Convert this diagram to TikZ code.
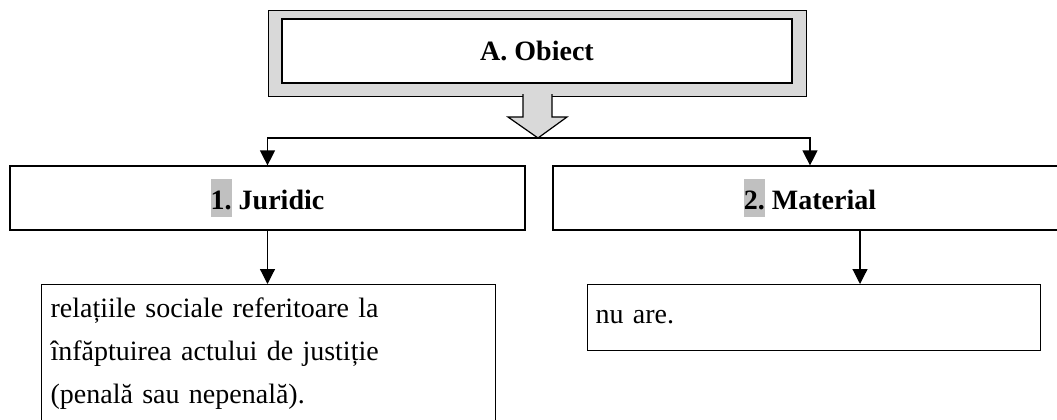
\documentclass[tikz,border=0pt]{standalone}
\usepackage{fontspec}
\setmainfont{Liberation Serif}
\usetikzlibrary{arrows.meta}

\definecolor{framegray}{RGB}{217,217,217}
\definecolor{markgray}{RGB}{192,192,192}
\newcommand{\marknum}[1]{{\setlength{\fboxsep}{0pt}\colorbox{markgray}{\rule[-8pt]{0pt}{38pt}#1}}}

\begin{document}
\begin{tikzpicture}[x=1pt,y=-1pt,line width=1.2pt,>={Triangle[length=15pt,width=15pt]}]

      \useasboundingbox (0,0) rectangle (1057,420);
      \clip (0,0) rectangle (1057,420);

      \begin{scope}[every node/.style={draw,fill=white,font=\fontsize{28}{43}\selectfont\bfseries}]
        \node[minimum width=510pt,minimum height=64pt] (obiect)   at (537,51)    {A. Obiect};
        \node[minimum width=515pt,minimum height=64pt] (juridic)  at (267.5,198) {\marknum{1.} Juridic};
        \node[minimum width=514pt,minimum height=64pt] (material) at (810,198)   {\marknum{2.} Material};
      \end{scope}

      \begin{scope}[every node/.style={draw,font=\fontsize{28}{43}\selectfont,align=left,anchor=north west,inner ysep=0pt}]
        \node[text width=436pt,inner xsep=9pt] (juridicdesc) at (41,284)
          {\rule{0pt}{33pt}relațiile sociale referitoare la\\ înfăptuirea actului de justiție\\ (penală sau nepenală).\rule[-25pt]{0pt}{0pt}};
        \node[text width=437pt,inner xsep=8pt,text height=39pt,text depth=27pt] (materialdesc) at (587,284) {nu are.};
      \end{scope}

      % grey frame and block arrow
      \draw[fill=framegray,even odd rule] ([shift={(-13,-8)}]obiect.north west) rectangle ([shift={(14,13)}]obiect.south east)
        (obiect.north west) rectangle (obiect.south east);
      \coordinate (split) at (538,138);
      \draw[fill=framegray,line join=miter] ([shift={(-15,-44)}]split) -- ++(0,23) -- ++(-15,0) -- (split)
        -- ++(29,-21) -- ++(-15,0) -- ++(0,-23);

      \draw[->] (split) -| (juridic.north);
      \draw[->] (split) -| (material.north);
      \draw[->] (juridic.south) -- (juridic.south |- juridicdesc.north);
      \draw[->] ([xshift=50pt]material.south) -- ([xshift=50pt]material.south |- materialdesc.north);

    \end{tikzpicture}
\end{document}
